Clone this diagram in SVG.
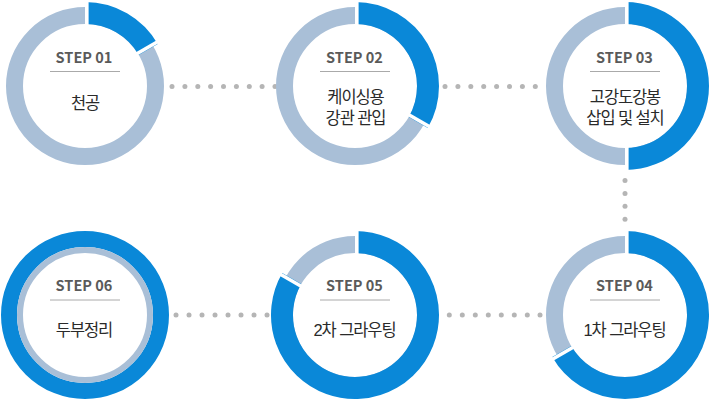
<svg xmlns="http://www.w3.org/2000/svg" width="710" height="400" viewBox="0 0 710 400">
<style>
.bg{fill:#ffffff}
.track{fill:none;stroke:#a9bfd7;stroke-width:17}
.prog{fill:none;stroke:#0a88d8;stroke-width:22;stroke-linecap:butt}
.gap{stroke:#ffffff;stroke-width:3.6;stroke-linecap:butt}
.full{fill:none;stroke:#0a88d8;stroke-width:16}
.inner{fill:none;stroke:#a9bfd7;stroke-width:6}
.step{font-family:"Noto Sans CJK KR","Noto Sans",sans-serif;font-size:14.5px;font-weight:700;fill:#5a5a5a;text-anchor:middle}
.sep{stroke:#aaaaaa;stroke-width:1}
.label{font-family:"Liberation Sans","Noto Sans CJK KR",sans-serif;font-size:16.5px;font-weight:400;fill:#2a2a2a;text-anchor:middle;letter-spacing:-1.1px}
.dot{fill:#b5b5b5}
</style>
<rect class="bg" x="0" y="0" width="710" height="400"/>
<g id="connectors">
<circle class="dot" cx="172" cy="86.5" r="2.5"/><circle class="dot" cx="184.9" cy="86.5" r="2.5"/><circle class="dot" cx="197.8" cy="86.5" r="2.5"/><circle class="dot" cx="210.6" cy="86.5" r="2.5"/><circle class="dot" cx="223.5" cy="86.5" r="2.5"/><circle class="dot" cx="236.4" cy="86.5" r="2.5"/><circle class="dot" cx="249.3" cy="86.5" r="2.5"/><circle class="dot" cx="262.1" cy="86.5" r="2.5"/><circle class="dot" cx="275" cy="86.5" r="2.5"/>
<circle class="dot" cx="445" cy="86.5" r="2.5"/><circle class="dot" cx="457.9" cy="86.5" r="2.5"/><circle class="dot" cx="470.8" cy="86.5" r="2.5"/><circle class="dot" cx="483.7" cy="86.5" r="2.5"/><circle class="dot" cx="496.6" cy="86.5" r="2.5"/><circle class="dot" cx="509.5" cy="86.5" r="2.5"/><circle class="dot" cx="522.4" cy="86.5" r="2.5"/><circle class="dot" cx="535.3" cy="86.5" r="2.5"/>
<circle class="dot" cx="625" cy="180.5" r="2.5"/><circle class="dot" cx="625" cy="193.4" r="2.5"/><circle class="dot" cx="625" cy="206.3" r="2.5"/><circle class="dot" cx="625" cy="219.2" r="2.5"/>
<circle class="dot" cx="449.3" cy="315" r="2.5"/><circle class="dot" cx="462.3" cy="315" r="2.5"/><circle class="dot" cx="475.3" cy="315" r="2.5"/><circle class="dot" cx="488.3" cy="315" r="2.5"/><circle class="dot" cx="501.3" cy="315" r="2.5"/><circle class="dot" cx="514.3" cy="315" r="2.5"/><circle class="dot" cx="527.3" cy="315" r="2.5"/><circle class="dot" cx="540" cy="315" r="2.5"/>
<circle class="dot" cx="176" cy="315" r="2.5"/><circle class="dot" cx="189" cy="315" r="2.5"/><circle class="dot" cx="202" cy="315" r="2.5"/><circle class="dot" cx="215" cy="315" r="2.5"/><circle class="dot" cx="228" cy="315" r="2.5"/><circle class="dot" cx="241" cy="315" r="2.5"/><circle class="dot" cx="254" cy="315" r="2.5"/><circle class="dot" cx="267" cy="315" r="2.5"/>
</g>
<g id="step01">
<circle class="track" cx="85" cy="86" r="70.5"/>
<path class="prog" d="M85,13 A73,73 0 0 1 148.22,49.5"/>
<line class="gap" x1="86.8" y1="-2" x2="86.8" y2="28"/>
<line class="gap" x1="134.23" y1="55.27" x2="160.21" y2="40.27"/>
<text class="step" x="84" y="63.3">STEP 01</text>
<line class="sep" x1="50" y1="71.5" x2="120" y2="71.5"/>
<text class="label" x="85" y="108.5">천공</text>
</g>
<g id="step02">
<circle class="track" cx="355" cy="86" r="70.5"/>
<path class="prog" d="M355,13 A73,73 0 0 1 418.22,122.5"/>
<line class="gap" x1="356.8" y1="-2" x2="356.8" y2="28"/>
<line class="gap" x1="406.23" y1="113.27" x2="432.21" y2="128.27"/>
<text class="step" x="354.5" y="63.3">STEP 02</text>
<line class="sep" x1="320" y1="71.5" x2="390" y2="71.5"/>
<text class="label" x="355.5" y="102.5">케이싱용</text>
<text class="label" x="355.5" y="123.5">강관 관입</text>
</g>
<g id="step03">
<circle class="track" cx="625" cy="86" r="70.5"/>
<path class="prog" d="M625,13 A73,73 0 0 1 625,159"/>
<line class="gap" x1="626.8" y1="-2" x2="626.8" y2="28"/>
<line class="gap" x1="626.8" y1="144" x2="626.8" y2="174"/>
<text class="step" x="624.5" y="63.3">STEP 03</text>
<line class="sep" x1="590" y1="71.5" x2="660" y2="71.5"/>
<text class="label" x="625" y="102.5">고강도강봉</text>
<text class="label" x="625" y="123.5">삽입 및 설치</text>
</g>
<g id="step04">
<circle class="track" cx="625" cy="315" r="70.5"/>
<path class="prog" d="M625,242 A73,73 0 1 1 561.78,351.5"/>
<line class="gap" x1="626.8" y1="227" x2="626.8" y2="257"/>
<line class="gap" x1="575.77" y1="345.73" x2="549.79" y2="360.73"/>
<text class="step" x="624.5" y="291.3">STEP 04</text>
<line class="sep" x1="590" y1="300" x2="660" y2="300"/>
<text class="label" x="624.5" y="335.8">1차 그라우팅</text>
</g>
<g id="step05">
<circle class="track" cx="355" cy="315" r="70.5"/>
<path class="prog" d="M355,242 A73,73 0 1 1 291.78,278.5"/>
<line class="gap" x1="356.8" y1="227" x2="356.8" y2="257"/>
<line class="gap" x1="303.77" y1="287.73" x2="277.79" y2="272.73"/>
<text class="step" x="354.5" y="291.3">STEP 05</text>
<line class="sep" x1="320" y1="300" x2="390" y2="300"/>
<text class="label" x="354.5" y="335.8">2차 그라우팅</text>
</g>
<g id="step06">
<circle class="full" cx="85" cy="315" r="76"/>
<circle class="inner" cx="85" cy="315" r="65"/>
<text class="step" x="84" y="291.3">STEP 06</text>
<line class="sep" x1="50" y1="300" x2="120" y2="300"/>
<text class="label" x="84" y="335.8">두부정리</text>
</g>
</svg>
